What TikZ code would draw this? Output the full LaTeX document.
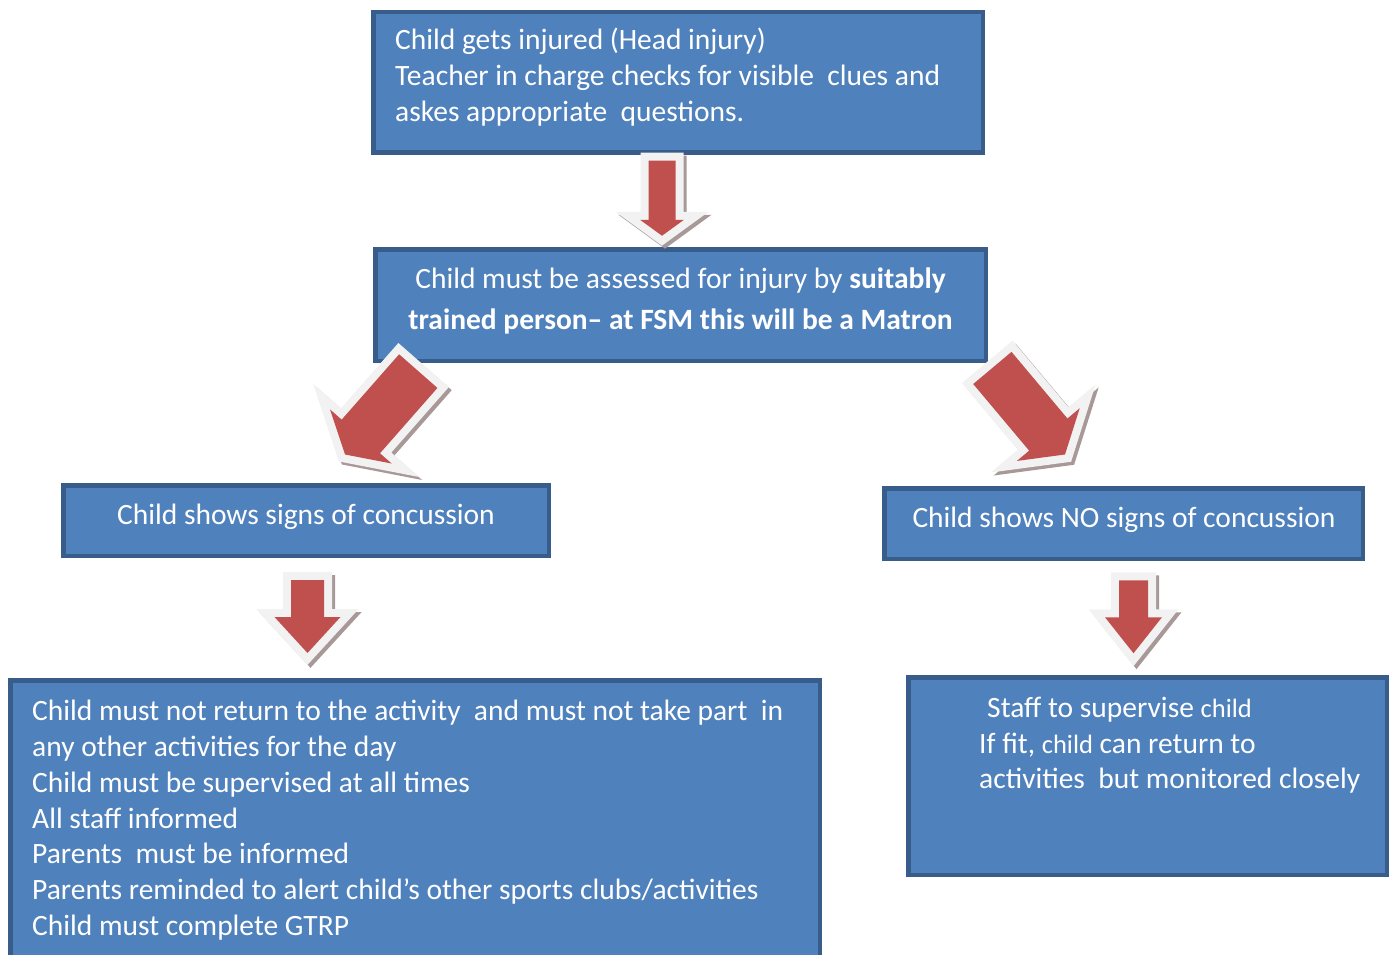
\documentclass[tikz,border=0pt]{standalone}
\usepackage{fontspec}
\setmainfont{Carlito}
\usetikzlibrary{calc}

\definecolor{boxblue}{HTML}{4F81BD}
\definecolor{boxedge}{HTML}{385D8A}
\definecolor{arrowred}{HTML}{C0504D}
\definecolor{arrowrim}{HTML}{F2F2F2}
\definecolor{arrowshade}{RGB}{168,152,152}

\tikzset{
  flowbox/.style={draw=boxedge, fill=boxblue, line width=4.5pt, inner sep=0pt},
  boxtext/.style={text=white, inner sep=0pt, font=\fontsize{29.5}{36}\selectfont},
}

% outline of a block arrow, tip at the origin, pointing down
\newcommand{\arrowpath}[4]{(-#1,-#4) -- (#1,-#4) -- (#1,-#3) -- (#2,-#3) -- (0,0) -- (-#2,-#3) -- (-#1,-#3) -- cycle}
% #1 tip, #2 rotation, #3 shaft half width, #4 head half width, #5 head length, #6 length
\newcommand{\blockarrow}[6]{%
  \begin{scope}[shift={(#1)}, shift={(3,3)}, rotate=#2]
    \filldraw[arrowshade, line width=16pt, line join=miter] \arrowpath{#3}{#4}{#5}{#6};
  \end{scope}
  \begin{scope}[shift={(#1)}, rotate=#2]
    \filldraw[arrowrim, line width=16pt, line join=miter] \arrowpath{#3}{#4}{#5}{#6};
    \fill[arrowred] \arrowpath{#3}{#4}{#5}{#6};
  \end{scope}}

\begin{document}
\begin{tikzpicture}[x=1pt, y=-1pt]
\useasboundingbox (0,0) rectangle (1395,955);

% boxes
\node[flowbox, minimum width=609.5pt, minimum height=140.5pt] (injury) at (678,82.5) {};
\node[flowbox, minimum width=610.5pt, minimum height=111.5pt] (assess) at (680.5,305) {};
\node[flowbox, minimum width=485.5pt, minimum height=70.5pt] (signs) at (306,520.5) {};
\node[flowbox, minimum width=478.5pt, minimum height=70.5pt] (nosigns) at (1123.5,523.5) {};
\node[flowbox, minimum width=809.5pt, minimum height=287.5pt] (concussed) at (415,824) {};
\node[flowbox, minimum width=478.5pt, minimum height=197.5pt] (monitor) at (1147.5,776) {};

% texts
\node[boxtext, anchor=north west, align=left] (injuryText) at ($(injury.north west)+(24,18)$)
  {Child gets injured (Head injury)\\Teacher in charge checks for visible~ clues and\\askes appropriate~ questions.};
\node[boxtext, anchor=north, align=center, font=\fontsize{29.5}{41}\selectfont] (assessText) at ($(assess.north)+(0,20.5)$)
  {Child must be assessed for injury by \textbf{suitably}\\\textbf{trained person– at FSM this will be a Matron}};
\node[boxtext, anchor=base] (signsText) at ($(signs.center)+(0,4)$) {Child shows signs of concussion};
\node[boxtext, anchor=base] (nosignsText) at ($(nosigns.center)+(0.5,4)$) {Child shows NO signs of concussion};
\node[boxtext, anchor=north west, align=left, font=\fontsize{29.5}{35.8}\selectfont] (concussedText) at ($(concussed.north west)+(24,22)$)
  {Child must not return to the activity~ and must not take part~ in\\any other activities for the day\\Child must be supervised at all times\\All staff informed\\Parents~ must be informed\\Parents reminded to alert child’s other sports clubs/activities\\Child must complete GTRP};
\node[boxtext, anchor=north west, align=left, font=\fontsize{29.5}{35.5}\selectfont] (monitorText) at ($(monitor.north west)+(73,22)$)
  {\hspace{8pt}Staff to supervise {\fontsize{26.5}{35.5}\selectfont child}\\If fit, {\fontsize{26.5}{35.5}\selectfont child} can return to\\activities~ but monitored closely};

% arrows
\coordinate (tipA) at ($(assess.north)+(-18.5,-11.25)$);
\coordinate (tipB) at ($(signs.north)+(39,-28.5)$);
\coordinate (tipC) at ($(nosigns.north)+(-58.5,-31.5)$);
\coordinate (tipD) at ($(signs.south)+(1.5,95)$);
\coordinate (tipE) at ($(nosigns.south)+(10,92.25)$);
\blockarrow{tipA}{0}{13.5}{22}{16}{75}
\blockarrow{tipB}{-41.3}{25.5}{41}{24}{111}
\blockarrow{tipC}{40}{25}{41}{26}{113}
\blockarrow{tipD}{0}{16.5}{33}{36}{73}
\blockarrow{tipE}{0}{14.5}{28.5}{36}{73}
\end{tikzpicture}
\end{document}
